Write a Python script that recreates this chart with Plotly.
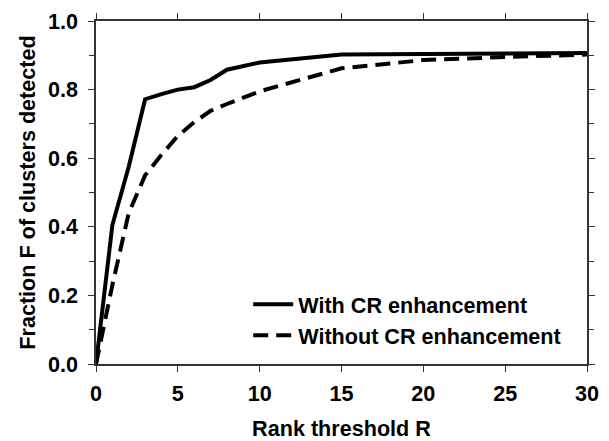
import plotly.graph_objects as go

rank_with = [0, 1, 2, 3, 4, 5, 6, 7, 8, 9, 10, 15, 20, 25, 30]
frac_with = [0.0, 0.405, 0.575, 0.772, 0.787, 0.800, 0.807, 0.828, 0.858, 0.868, 0.879, 0.902, 0.904, 0.907, 0.907]

rank_without = [0, 1, 2, 3, 4, 5, 6, 7, 8, 9, 10, 15, 20, 25, 30]
frac_without = [0.0, 0.23, 0.44, 0.55, 0.61, 0.665, 0.705, 0.738, 0.758, 0.778, 0.795, 0.862, 0.886, 0.895, 0.902]

series_names = ["With CR enhancement", "Without CR enhancement"]
x_ticks = [0, 5, 10, 15, 20, 25, 30]
y_ticks = [0.0, 0.2, 0.4, 0.6, 0.8, 1.0]

font_family = "Liberation Sans, Arial, sans-serif"
fs = 21.6

fig = go.Figure()
fig.add_trace(go.Scatter(x=rank_with, y=frac_with, mode="lines", name=series_names[0],
                         line=dict(color="black", width=4)))
fig.add_trace(go.Scatter(x=rank_without, y=frac_without, mode="lines", name=series_names[1],
                         line=dict(color="black", width=4, dash="15px,8px")))

axis_common = dict(showgrid=False, zeroline=False, showline=True, linecolor="#333333", linewidth=1.5,
                   mirror="ticks", ticks="outside", ticklen=6, tickwidth=1.2, tickcolor="#333333",
                   tickfont=dict(family=font_family, size=fs, color="black", weight="bold"))

fig.update_xaxes(range=[0, 30], tickvals=x_ticks, ticktext=[str(v) for v in x_ticks],
                 ticklabelstandoff=3,
                 title=dict(text="Rank threshold R", font=dict(family=font_family, size=fs, color="black", weight="bold"),
                            standoff=17),
                 **axis_common)
fig.update_yaxes(range=[0, 1.0], tickvals=y_ticks, ticktext=[f"{v:.1f}" for v in y_ticks],
                 ticklabelstandoff=6,
                 minor=dict(dtick=0.1, ticks="outside", ticklen=5, tickwidth=1.2, tickcolor="#333333"),
                 title=dict(text="Fraction F of clusters detected",
                            font=dict(family=font_family, size=fs, color="black", weight="bold"), standoff=6),
                 **axis_common)

# page body has an 8px margin, so the figure is sized to fit the window
fig.update_layout(
    width=601, height=433,
    margin=dict(l=88, r=22, t=13, b=77, autoexpand=False),
    paper_bgcolor="white", plot_bgcolor="white",
    showlegend=True,
    legend=dict(x=0.31, y=0.234, xanchor="left", yanchor="top", bgcolor="rgba(0,0,0,0)",
                font=dict(family=font_family, size=fs, color="black", weight="bold"),
                tracegroupgap=0, itemwidth=40),
)

fig.write_html("out.html")
